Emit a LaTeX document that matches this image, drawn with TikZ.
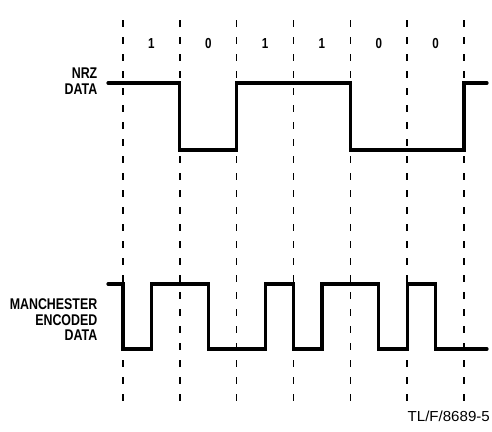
\documentclass[tikz,border=0pt]{standalone}
\usepackage{fontspec}
\newfontfamily\lblfont[FakeStretch=0.8]{Liberation Sans}
\newfontfamily\tagfont[FakeStretch=1.04]{Liberation Sans}
\begin{document}
\begin{tikzpicture}[x=1pt,y=-1pt,
  grid/.style={line width=1.6pt,dash pattern=on 7pt off 10pt},
  signal/.style={line width=3.2pt,line join=miter,line cap=round},
  lbl/.style={font=\lblfont\bfseries\fontsize{15.5}{15.5}\selectfont,align=right,anchor=east,inner sep=0pt},
  bit/.style={font=\lblfont\bfseries\fontsize{14.5}{15}\selectfont,inner sep=0pt}]
\useasboundingbox (0,0) rectangle (492,431);
% dashed bit boundaries
\foreach \i in {0,...,6}{
  \coordinate (t\i) at ({123+56.83*\i},20);
  \coordinate (b\i) at ({123+56.83*\i},406);
  \draw[grid] (t\i) -- (b\i);
}
% bit labels
\foreach \v [count=\i from 0] in {1,0,1,1,0,0}{
  \node[bit] (bit\i) at ({151.4+56.83*\i},44) {\v};
}
% labels
\node[lbl] (nrz) at (97.5,81) {NRZ\\DATA};
\node[lbl] (man) at (97.5,320) {MANCHESTER\\ENCODED\\DATA};
\node[font=\tagfont\fontsize{14.5}{15}\selectfont,anchor=east,inner sep=0pt] (tag) at (490,416) {TL/F/8689-5};
% NRZ waveform
\draw[signal] (108,83) -- (179.8,83) -- (179.8,150) -- (236.7,150) -- (236.7,83)
  -- (350.3,83) -- (350.3,150) -- (464,150) -- (464,83) -- (487,83);
% Manchester waveform
\draw[signal] (108,284) -- (123,284) -- (123,349) -- (151.4,349) -- (151.4,284)
  -- (208.3,284) -- (208.3,349) -- (265.1,349) -- (265.1,284) -- (293.5,284)
  -- (293.5,349) -- (321.9,349) -- (321.9,284) -- (378.8,284) -- (378.8,349)
  -- (407.2,349) -- (407.2,284) -- (435.6,284) -- (435.6,349) -- (487,349);
\end{tikzpicture}
\end{document}
